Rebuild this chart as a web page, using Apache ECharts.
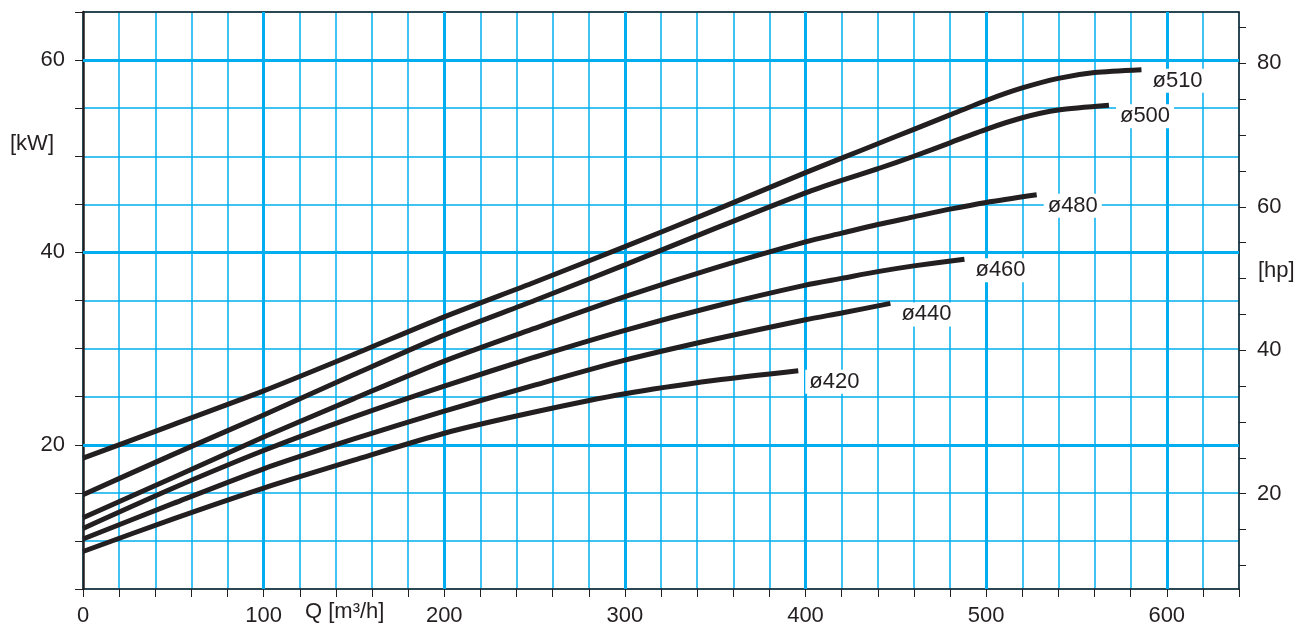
<!DOCTYPE html>
<html>
<head>
<meta charset="utf-8">
<script src="https://cdn.jsdelivr.net/npm/echarts@6/dist/echarts.min.js"></script>
<style>
html,body{margin:0;padding:0;background:#fff;}
#c{width:1316px;height:630px;}
</style>
</head>
<body>
<div id="c"></div>
<script>
// ---- data ----
const curveNames = ['ø510', 'ø500', 'ø480', 'ø460', 'ø440', 'ø420'];
const q510 = [0, 50, 100, 150, 200, 250, 300, 350, 400, 420, 440, 460, 480, 500, 520, 540, 560, 586];
const kw510 = [18.6, 22.1, 25.6, 29.4, 33.3, 36.9, 40.6, 44.4, 48.3, 49.8, 51.3, 52.8, 54.3, 55.8, 57.1, 58.1, 58.7, 59.0];
const q500 = [0, 50, 100, 150, 200, 250, 300, 350, 400, 420, 440, 460, 480, 500, 520, 540, 568];
const kw500 = [14.8, 19.0, 23.1, 27.3, 31.4, 35.0, 38.7, 42.5, 46.2, 47.5, 48.7, 50.0, 51.4, 52.8, 54.0, 54.8, 55.3];
const q480 = [0, 50, 100, 150, 200, 250, 300, 350, 400, 420, 440, 460, 480, 500, 528];
const kw480 = [12.4, 16.6, 20.8, 24.8, 28.7, 32.1, 35.4, 38.4, 41.1, 42.0, 42.9, 43.7, 44.5, 45.2, 46.0];
const q460 = [0, 50, 100, 150, 200, 250, 300, 350, 400, 420, 440, 460, 488];
const kw460 = [11.3, 15.5, 19.4, 22.9, 26.1, 29.1, 31.9, 34.4, 36.6, 37.3, 38.0, 38.6, 39.3];
const q440 = [0, 50, 100, 150, 200, 250, 300, 350, 400, 420, 447];
const kw440 = [10.2, 13.9, 17.5, 20.6, 23.5, 26.2, 28.8, 31.0, 33.0, 33.7, 34.7];
const q420 = [0, 50, 100, 150, 200, 250, 300, 350, 396];
const kw420 = [8.9, 12.3, 15.5, 18.4, 21.2, 23.4, 25.3, 26.7, 27.7];

const xMajor = [100, 200, 300, 400, 500, 600];
const yMajor = [20, 40, 60];
const xLabelValues = [0, 100, 200, 300, 400, 500, 600];
const kwLabelValues = [20, 40, 60];
const hpTickValues = [10, 15, 20, 25, 30, 35, 40, 45, 50, 55, 60, 65, 70, 75, 80, 85];
const hpLabelValues = [20, 40, 60, 80];
const KW_PER_HP = 0.745699872;

// ---- chart ----
const qs = [q510, q500, q480, q460, q440, q420];
const kws = [kw510, kw500, kw480, kw460, kw440, kw420];
const CY = '#00aeef';
const INK = '#231f20';
const FONT = '"Liberation Sans", Arial, sans-serif';

const chart = echarts.init(document.getElementById('c'), null, {renderer: 'canvas'});

const curveSeries = curveNames.map((name, i) => ({
  name: name,
  type: 'line',
  data: qs[i].map((q, j) => [q, kws[i][j]]),
  smooth: 0.25,
  showSymbol: false,
  symbol: 'none',
  z: 5,
  lineStyle: {color: INK, width: 5, cap: 'butt'},
  endLabel: {
    show: true,
    formatter: name,
    color: INK,
    fontFamily: FONT,
    fontSize: 22,
    backgroundColor: '#fff',
    padding: [1, 4],
    distance: 5,
    offset: [2, 11]
  },
  emphasis: {disabled: true}
}));

const option = {
  animation: false,
  backgroundColor: '#fff',
  grid: {left: 83, right: 77, top: 12, bottom: 41, containLabel: false},
  xAxis: [{
    type: 'value', min: 0, max: 640, interval: 20,
    axisLine: {show: true, onZero: false, lineStyle: {color: INK, width: 1.5}},
    axisTick: {show: true, length: 8, lineStyle: {color: INK, width: 1}},
    axisLabel: {
      color: INK, fontSize: 22, fontFamily: FONT, margin: 16,
      formatter: v => (xLabelValues.indexOf(v) >= 0 ? String(v) : '')
    },
    splitLine: {show: true, lineStyle: {color: CY, width: 1.5}}
  }, {
    type: 'value', min: 0, max: 640, position: 'top',
    axisLine: {show: true, onZero: false, lineStyle: {color: INK, width: 1.5}},
    axisTick: {show: false}, axisLabel: {show: false}, splitLine: {show: false}
  }],
  yAxis: [{
    type: 'value', min: 5, max: 65, interval: 5, position: 'left',
    axisLine: {show: true, onZero: false, lineStyle: {color: INK, width: 2.5}},
    axisTick: {show: true, length: 8, lineStyle: {color: INK, width: 1}},
    axisLabel: {
      color: INK, fontSize: 22, fontFamily: FONT, margin: 18,
      formatter: v => (kwLabelValues.indexOf(v) >= 0 ? String(v) : '')
    },
    splitLine: {show: true, lineStyle: {color: CY, width: 1.5}}
  }, {
    type: 'value', min: 5 / KW_PER_HP, max: 65 / KW_PER_HP, position: 'right',
    axisLine: {show: true, onZero: false, lineStyle: {color: INK, width: 1.5}},
    axisTick: {show: true, length: 7, lineStyle: {color: INK, width: 1}, customValues: hpTickValues},
    axisLabel: {color: INK, fontSize: 22, fontFamily: FONT, margin: 18, customValues: hpLabelValues},
    splitLine: {show: false}
  }],
  series: [{
    type: 'line',
    data: [],
    z: 1,
    silent: true,
    markLine: {
      silent: true,
      symbol: ['none', 'none'],
      label: {show: false},
      emphasis: {disabled: true},
      lineStyle: {color: CY, width: 3, type: 'solid'},
      data: xMajor.map(v => ({xAxis: v})).concat(yMajor.map(v => ({yAxis: v})))
    }
  }].concat(curveSeries),
  graphic: [
    {type: 'text', left: 10, top: 133, style: {text: '[kW]', fill: INK, font: '22px ' + FONT}},
    {type: 'text', left: 1258, top: 260, style: {text: '[hp]', fill: INK, font: '22px ' + FONT}},
    {type: 'text', left: 305, top: 601, style: {text: 'Q [m³/h]', fill: INK, font: '22px ' + FONT}}
  ]
};
chart.setOption(option);
</script>
</body>
</html>
